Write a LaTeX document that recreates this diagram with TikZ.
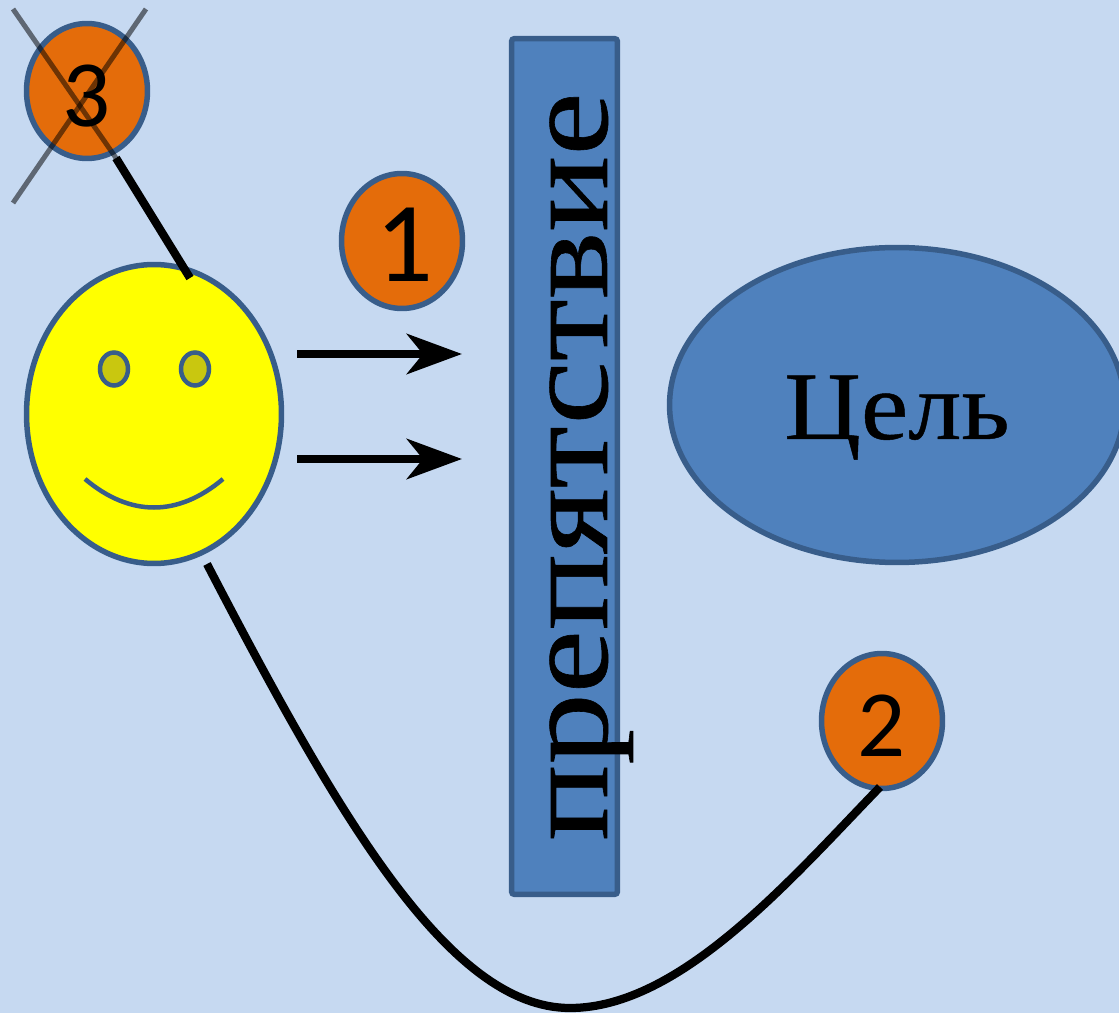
\documentclass[tikz,border=0pt]{standalone}
\usepackage{fontspec}
\setmainfont{Liberation Serif}
\newfontfamily\wallfont[FakeStretch=1.168,FakeBold=0.5]{Liberation Serif}
\newfontfamily\goalfont[FakeStretch=1.1,FakeBold=0.5]{Liberation Serif}
\newfontfamily\digitfont{Carlito}
\usetikzlibrary{arrows.meta,shapes.geometric}
\definecolor{skyfill}{HTML}{C6D9F1}
\definecolor{bluefill}{HTML}{4F81BD}
\definecolor{blueline}{HTML}{385D8A}
\definecolor{orangefill}{HTML}{E46C0A}
\definecolor{eyefill}{HTML}{C9C70F}
\definecolor{facefill}{HTML}{FFFF00}
\tikzset{
    shapeline/.style={draw=blueline, line width=0.11cm, inner sep=0pt, outer sep=0pt},
    numbered/.style={shapeline, ellipse, fill=orangefill, minimum width=2.42cm, minimum height=2.7cm, text depth=0pt},
    eyeball/.style={shapeline, ellipse, fill=eyefill, minimum width=0.56cm, minimum height=0.66cm, line width=0.09cm},
    route/.style={line width=0.165cm, black},
    push/.style={line width=0.18cm, black, -{Stealth[length=1.1cm, width=0.8cm, inset=0.32cm]}},
    crossout/.style={line width=0.1cm, black, opacity=0.52}
}
\begin{document}
\begin{tikzpicture}[x=0.02cm, y=-0.02cm]
    \useasboundingbox (0,0) rectangle (1119,1013);
    \path [fill=skyfill] (0,0) rectangle (1119,1013);
    % obstacle and goal
    \node (wall) [shapeline, fill=bluefill, rotate=90, rounded corners=0.06cm, minimum width=17.12cm, minimum height=2.12cm, text height=1.7cm, text depth=0pt] at (564.5,466.5) {\wallfont\fontsize{69.4}{80}\selectfont препятствие};
    \node (goal) [shapeline, ellipse, fill=bluefill, minimum width=9.1cm, minimum height=6.3cm, text height=1.36cm, text depth=0pt] at (897,405) {\goalfont\fontsize{55}{64}\selectfont Цель};
    % face
    \node (face) [shapeline, ellipse, fill=facefill, minimum width=5.1cm, minimum height=5.98cm] at (154,414) {};
    \node (eyeL) [eyeball] at (114,369) {};
    \node (eyeR) [eyeball] at (195,369) {};
    \coordinate (smileL) at (85,479);
    \coordinate (smileR) at (223,479);
    \draw [blueline, line width=0.09cm] (smileL) .. controls (130,517) and (178,517) .. (smileR);
    % numbered ways
    \node (one) [numbered, text height=1.64cm] at (402,241) {\hspace*{0.1cm}\digitfont\fontsize{65}{74}\selectfont 1};
    \node (two) [numbered, text height=1.44cm] at (882,721) {\digitfont\fontsize{54}{62}\selectfont 2};
    \node (three) [numbered, text height=1.44cm] at (87,91) {\digitfont\fontsize{54}{62}\selectfont 3};
    \coordinate (crossA) at (13,9);
    \coordinate (crossB) at (116,158);
    \coordinate (crossC) at (146,9);
    \coordinate (crossD) at (13,203);
    \draw [crossout] (crossA) -- (crossB);
    \draw [crossout] (crossC) -- (crossD);
    \coordinate (faceTop) at (190,278);
    \draw [route] (crossB) -- (faceTop);
    % arrows towards the obstacle
    \coordinate (pushA) at (297,354);
    \coordinate (tipA) at (462,354);
    \coordinate (pushB) at (297,459);
    \coordinate (tipB) at (462,459);
    \draw [push] (pushA) -- (tipA);
    \draw [push] (pushB) -- (tipB);
    % way round
    \coordinate (faceLow) at (207,564);
    \coordinate (twoLow) at (880,787);
    \draw [route] (faceLow) .. controls (340,820) and (450,1008) .. (570,1008) .. controls (680,1008) and (790,880) .. (twoLow);
\end{tikzpicture}
\end{document}
